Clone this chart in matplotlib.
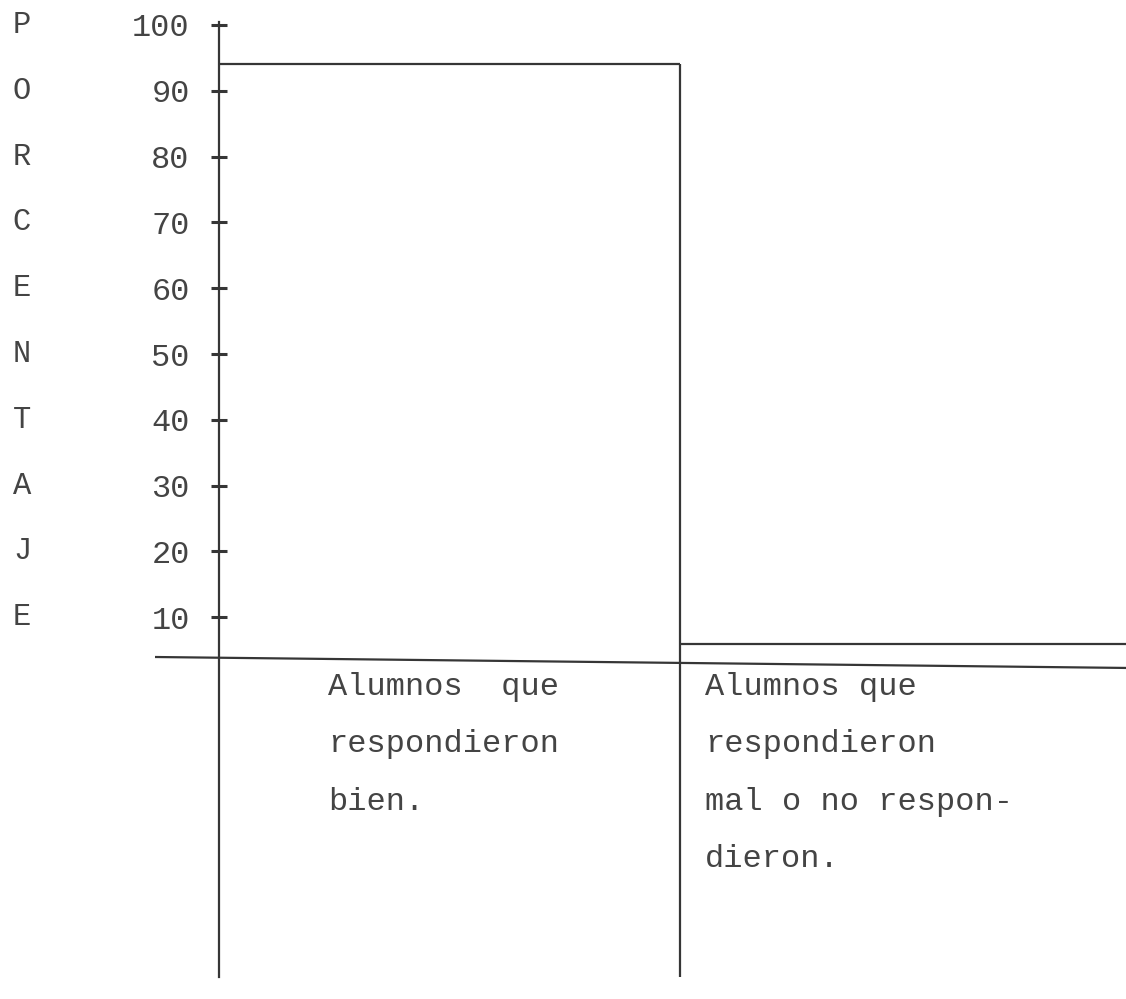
import matplotlib
matplotlib.use("Agg")
import matplotlib.pyplot as plt

# ---- data ----
categories = [
    ["Alumnos  que", "respondieron", "bien."],
    ["Alumnos que", "respondieron", "mal o no respon-", "dieron."],
]
values = [94, 6]
yticks = [10, 20, 30, 40, 50, 60, 70, 80, 90, 100]
ytick_labels = ["10", "20", "30", "40", "50", "60", "70", "80", "90", "100"]
ylabel_letters = list("PORCENTAJE")

# ---- layout (pixels of the 1126x999 canvas) ----
W, H = 1126, 999
Y100_PX = 25          # pixel row of the 100 tick
PX_PER_UNIT = 6.58    # pixels per percentage point
AXIS_PX = 219         # pixel column of the vertical axis
PX_PER_CAT = 461      # pixels per category column

LINE_C = "#363636"
TEXT_C = "#444444"
FONT = "Liberation Mono"
FS = 23

fig = plt.figure(figsize=(W / 100, H / 100), dpi=100)
fig.patch.set_facecolor("white")
ax = fig.add_axes([0, 0, 1, 1])
ax.set_facecolor("white")


def ydata(py):
    return 100 - (py - Y100_PX) / PX_PER_UNIT


def xdata(px):
    return (px - AXIS_PX) / PX_PER_CAT


ax.set_ylim(ydata(H), ydata(0))
ax.set_xlim(xdata(0), xdata(W))

floor = ydata(977)

# vertical axis with ticks
for s in ["top", "right", "bottom"]:
    ax.spines[s].set_visible(False)
ax.spines["left"].set_position(("data", 0))
ax.spines["left"].set_bounds(floor, 100.4)
ax.spines["left"].set_color(LINE_C)
ax.spines["left"].set_linewidth(1.6)
ax.set_xticks([])
ax.set_yticks(yticks, ytick_labels, family=FONT)
ax.tick_params(axis="y", direction="inout", length=12, width=2.2,
               colors=LINE_C, labelcolor=TEXT_C, labelsize=FS, pad=15)

# vertical y-label, one letter per tick row
for letter, t in zip(ylabel_letters, yticks[::-1]):
    ax.text(xdata(22), t, letter, ha="center", va="center",
            family=FONT, fontsize=FS - 1, color=TEXT_C)

# horizontal base line (drawn freehand in the original)
ax.plot([xdata(155), xdata(W + 5)], [ydata(657), ydata(668)],
        color=LINE_C, lw=1.6, solid_capstyle="butt")

# bars: open outlines (top edge + separating vertical line)
for i, v in enumerate(values):
    ax.hlines(v, i, i + 1, color=LINE_C, lw=1.6)
ax.vlines(1, floor, values[0], color=LINE_C, lw=1.6)

# category labels under the base line
label_dx = [0.236, 1.054]
for i, lines in enumerate(categories):
    for j, line in enumerate(lines):
        ax.text(label_dx[i], ydata(687 + 57.5 * j), line, ha="left", va="center",
                family=FONT, fontsize=FS, color=TEXT_C)

fig.savefig("out.png", dpi=100, facecolor="white")
